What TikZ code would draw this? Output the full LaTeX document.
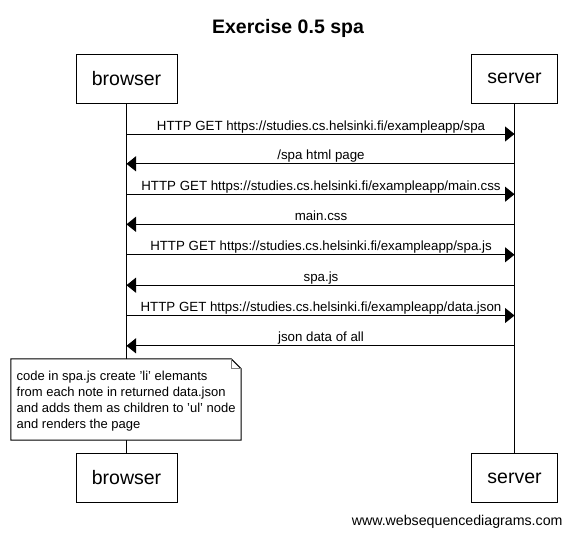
\documentclass[tikz,border=0pt]{standalone}
\usepackage{fontspec}
\setmainfont{Liberation Sans}
\usetikzlibrary{arrows.meta}
\begin{document}
\begin{tikzpicture}[x=1pt,y=-1pt,
  actor/.style={draw,line width=1pt,minimum width=#1,minimum height=49pt,inner sep=0pt,font=\fontsize{19.5}{22}\selectfont},
  msg/.style={line width=1pt,-{Triangle[length=9.5pt,width=15pt]}},
  lbl/.style={anchor=base,inner sep=0pt,font=\fontsize{13.3}{15}\selectfont},
  life/.style={line width=1pt}]
\useasboundingbox (0,0) rectangle (572,536);
\node[anchor=base,inner sep=0pt,font=\bfseries\fontsize{19.5}{22}\selectfont] (title) at (288,33.3) {Exercise 0.5 spa};
\node[actor=101pt] (bt) at (126.5,78.5) {browser};
\node[actor=86pt] (st) at (514.5,78.5) {server};
\node[actor=101pt] (bb) at (126.5,478) {browser};
\node[actor=86pt] (sb) at (514.5,478) {server};
\draw[life] (bt.south) -- (bb.north);
\draw[life] (st.south) -- (sb.north);
\foreach \i/\y in {1/134,2/163.8,3/194.2,4/224.3,5/254.8,6/285.2,7/315.5,8/345.8}{
  \coordinate (b\i) at (126.5,\y);
  \coordinate (s\i) at (514.5,\y);
  \coordinate (m\i) at (321,\y-4);
}
\draw[msg] (b1) -- (s1);
\node[lbl] (l1) at (m1) {HTTP GET https://studies.cs.helsinki.fi/exampleapp/spa};
\draw[msg] (s2) -- (b2);
\node[lbl] (l2) at (m2) {/spa html page};
\draw[msg] (b3) -- (s3);
\node[lbl] (l3) at (m3) {HTTP GET https://studies.cs.helsinki.fi/exampleapp/main.css};
\draw[msg] (s4) -- (b4);
\node[lbl] (l4) at (m4) {main.css};
\draw[msg] (b5) -- (s5);
\node[lbl] (l5) at (m5) {HTTP GET https://studies.cs.helsinki.fi/exampleapp/spa.js};
\draw[msg] (s6) -- (b6);
\node[lbl] (l6) at (m6) {spa.js};
\draw[msg] (b7) -- (s7);
\node[lbl] (l7) at (m7) {HTTP GET https://studies.cs.helsinki.fi/exampleapp/data.json};
\draw[msg] (s8) -- (b8);
\node[lbl] (l8) at (m8) {json data of all};
% note
\node[minimum width=230pt,minimum height=81pt,inner sep=0pt] (note) at (126,399.5) {};
\fill[white] (note.north west) -- ([xshift=-10pt]note.north east) -- ([yshift=-10pt]note.north east) -- (note.south east) -- (note.south west) -- cycle;
\draw[line width=1pt] (note.north west) -- ([xshift=-10pt]note.north east) -- ([yshift=-10pt]note.north east) -- (note.south east) -- (note.south west) -- cycle;
\draw[gray,line width=0.8pt] ([xshift=-10pt]note.north east) -- ([xshift=-10pt,yshift=-10pt]note.north east) -- ([yshift=-10pt]note.north east);
\node[anchor=north west,inner sep=0pt,align=left,font=\fontsize{13}{15.8}\selectfont] (notetext) at (16.5,371.3) {code in spa.js create 'li' elemants\\from each note in returned data.json\\and adds them as children to 'ul' node\\and renders the page};
\node[anchor=base east,inner sep=0pt,font=\fontsize{14.2}{16}\selectfont] (footer) at (562.7,525.5) {www.websequencediagrams.com};
\end{tikzpicture}
\end{document}
